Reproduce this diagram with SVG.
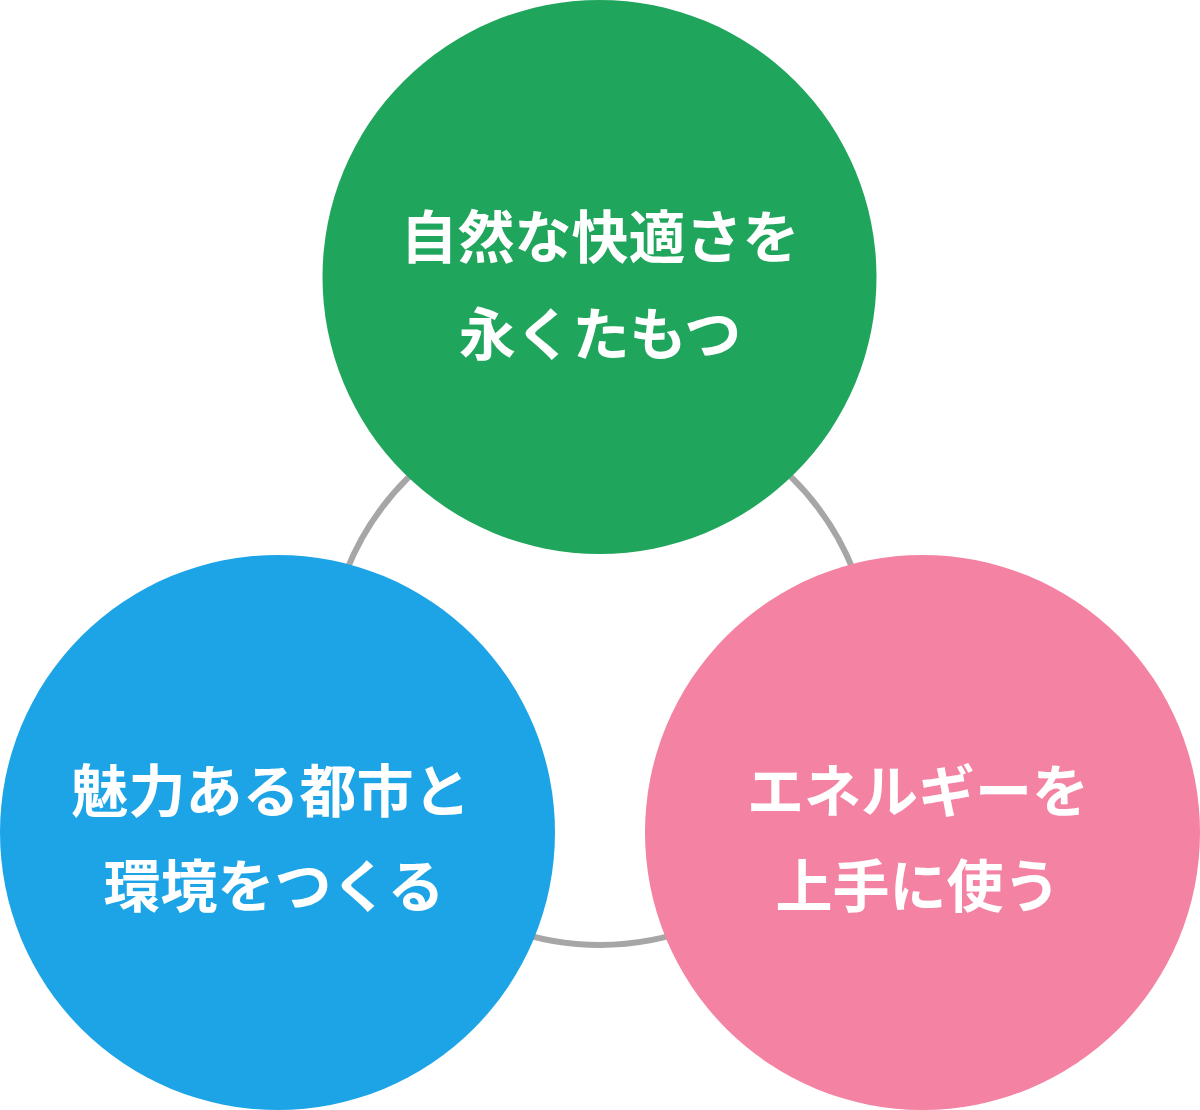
<svg xmlns="http://www.w3.org/2000/svg" width="1200" height="1110" viewBox="0 0 1200 1110">
<style>
.lbl{font-family:"Noto Sans CJK JP","Noto Sans CJK SC",sans-serif;font-weight:700;font-size:57px;fill:#ffffff;text-anchor:middle}
</style>
<rect width="1200" height="1110" fill="#ffffff"/>
<g id="connectors">
<circle cx="600" cy="672" r="273" fill="none" stroke="#a6a6a6" stroke-width="6"/>
</g>
<g id="node-green">
<circle cx="599.5" cy="277" r="277" fill="#1fa55c"/>
<text class="lbl" x="600" y="258">自然な快適さを</text>
<text class="lbl" x="600" y="355">永くたもつ</text>
</g>
<g id="node-blue">
<circle cx="277.5" cy="832.5" r="277.5" fill="#1da4e6"/>
<text class="lbl" x="271" y="812">魅力ある都市と</text>
<text class="lbl" x="274" y="907">環境をつくる</text>
</g>
<g id="node-pink">
<circle cx="922.5" cy="832.5" r="277.5" fill="#f483a3"/>
<text class="lbl" x="918" y="812">エネルギーを</text>
<text class="lbl" x="918" y="907">上手に使う</text>
</g>
</svg>
